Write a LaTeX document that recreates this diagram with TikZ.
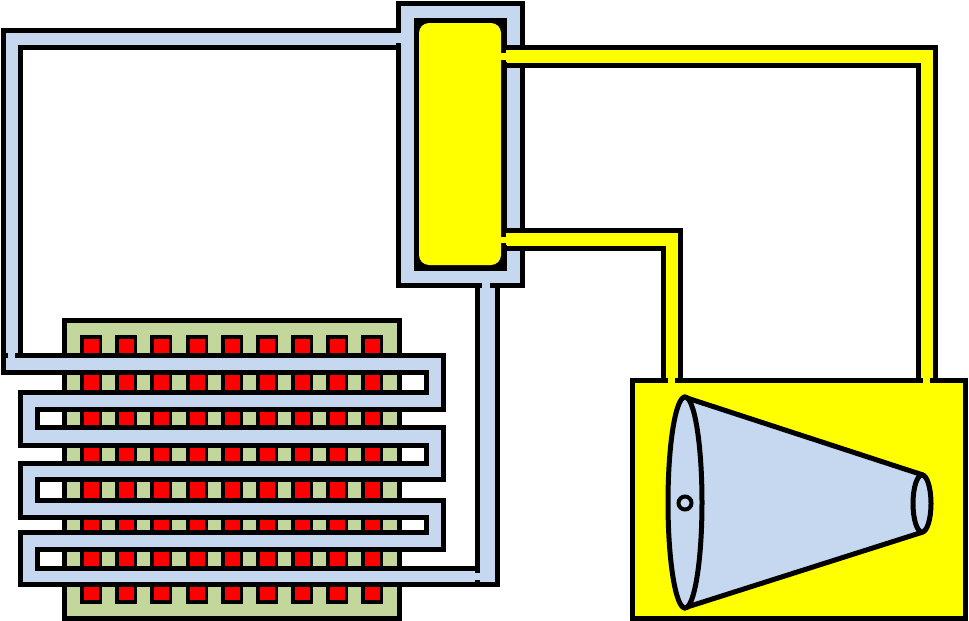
\documentclass[tikz,border=0pt]{standalone}
\definecolor{pipeblue}{RGB}{198,216,240}
\definecolor{boardgreen}{RGB}{195,214,155}
\definecolor{hotred}{RGB}{255,0,0}
\definecolor{fluid}{RGB}{255,255,0}
\tikzset{
  outline/.style={draw=black,line width=5pt,line join=miter},
  bluepart/.style={outline,fill=pipeblue},
  yellowpart/.style={outline,fill=fluid},
  board/.style={outline,fill=boardgreen},
  heater/.style={outline,fill=hotred,line width=3.6pt},
  stub/.style={draw=black,line width=5pt}
}
\begin{document}
\begin{tikzpicture}[x=1pt,y=-1pt]
\useasboundingbox (0,0) rectangle (969,621);
% circuit board with heating bars
\draw[board] (64,320) rectangle (399,618);
\foreach \c in {91,126,161,197,232,267,302,337,372}
  \draw[heater] (\c-9.3,337) rectangle (\c+9.3,602);
% serpentine blue pipe
\draw[bluepart] (400,30) -- (3,30) -- (3,372) -- (426,372) -- (426,392) -- (20,392) -- (20,445)
  -- (426,445) -- (426,463) -- (20,463) -- (20,517) -- (426,517) -- (426,532) -- (20,532)
  -- (20,584) -- (497,584) -- (497,283) -- (477,283) -- (477,568) -- (37,568) -- (37,549)
  -- (443,549) -- (443,500) -- (37,500) -- (37,479) -- (443,479) -- (443,427) -- (37,427)
  -- (37,409) -- (443,409) -- (443,355) -- (20,355) -- (20,47) -- (400,47);
\draw[stub] (1,355) -- (8,355);
\draw[stub] (15,355) -- (22,355);
\draw[stub] (477,566) -- (477,573);
\draw[stub] (477,580) -- (477,586);
% separator housing
\draw[bluepart] (398,3) rectangle (522,285);
\fill[pipeblue] (395,33) rectangle (402,43);
\fill[pipeblue] (482,282) rectangle (490,289);
% yellow vessel
\draw[yellowpart] (632,380) rectangle (965,618);
% yellow pipes
\draw[yellowpart] (504,47) -- (935,47) -- (935,380) -- (918,380) -- (918,65) -- (504,65) -- cycle;
\draw[yellowpart] (504,230) -- (680,230) -- (680,380) -- (663,380) -- (663,248) -- (504,248) -- cycle;
\fill[fluid] (668,376) rectangle (675,384);
\fill[fluid] (923,376) rectangle (930,384);
% inner chamber
\draw[outline,fill=black] (416,20) rectangle (504,268);
\fill[fluid,rounded corners=10pt] (419,23) rectangle (501,265);
\fill[fluid] (499,53) rectangle (510,60);
\fill[fluid] (499,237) rectangle (510,243);
\fill[fluid] (506,50) rectangle (510,62);
\fill[fluid] (506,233) rectangle (510,245);
% cone
\draw[bluepart,line join=round] (684,397) -- (923,475) -- (923,532) -- (684,608) -- cycle;
\draw[bluepart] (685,502.5) ellipse [x radius=17, y radius=105.5];
\draw[bluepart] (922,503.5) ellipse [x radius=9, y radius=28.5];
\draw[bluepart,line width=4pt] (685,503) circle [radius=6.5];
\end{tikzpicture}
\end{document}
